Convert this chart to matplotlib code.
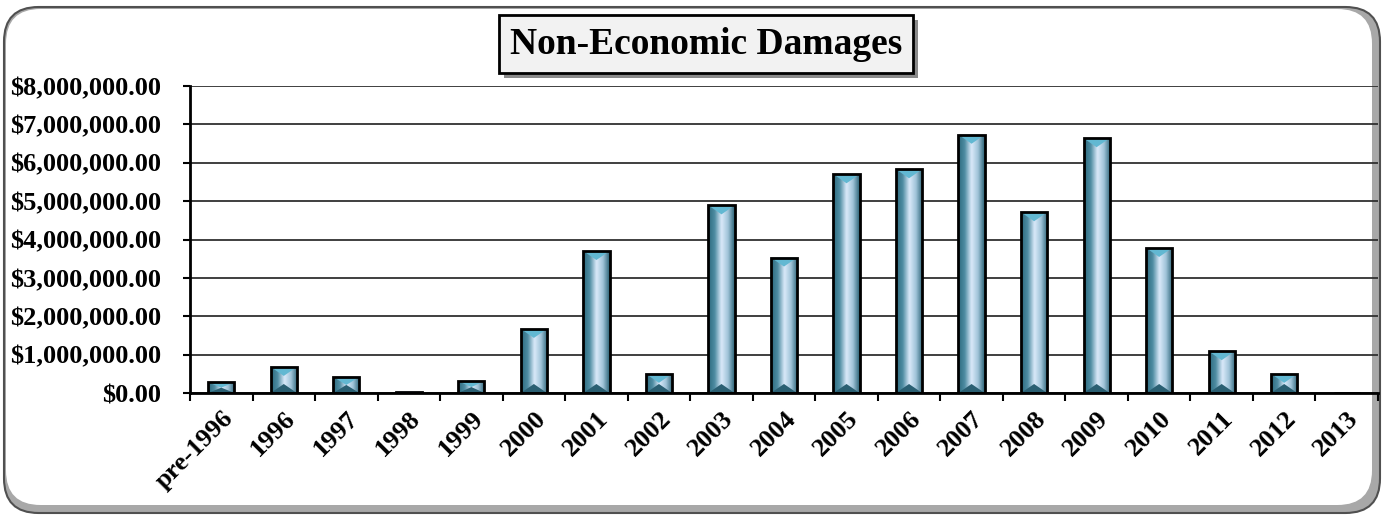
import numpy as np
import matplotlib.pyplot as plt
from matplotlib.patches import FancyBboxPatch, Polygon, Rectangle
from matplotlib.colors import LinearSegmentedColormap
from matplotlib.ticker import FuncFormatter, FixedLocator

years = ['pre-1996', '1996', '1997', '1998', '1999', '2000', '2001', '2002', '2003',
         '2004', '2005', '2006', '2007', '2008', '2009', '2010', '2011', '2012', '2013']
damages = [280000, 680000, 420000, 30000, 310000, 1670000, 3700000, 500000, 4890000,
           3530000, 5700000, 5830000, 6730000, 4710000, 6640000, 3780000, 1090000, 500000, 10000]

plt.rcParams['font.family'] = ['Liberation Serif', 'DejaVu Serif']
plt.rcParams['font.weight'] = 'bold'

W, H = 1383, 515
fig = plt.figure(figsize=(W / 100, H / 100), dpi=100)

# outer rounded frame with inner shadow on the right/bottom
outer = FancyBboxPatch((4 / W, 2 / H), 1376 / W, 506 / H, boxstyle='round,pad=0,rounding_size=0.025',
                       transform=fig.transFigure, facecolor='#a8a8a8', edgecolor='#505050', lw=1.5,
                       mutation_aspect=W / H, zorder=-2)
inner = FancyBboxPatch((6 / W, 10 / H), 1366 / W, 496 / H, boxstyle='round,pad=0,rounding_size=0.025',
                       transform=fig.transFigure, facecolor='white', edgecolor='none',
                       mutation_aspect=W / H, zorder=-1)
fig.patches.extend([outer, inner])

ax = fig.add_axes([190 / W, 1 - 393 / H, 1188 / W, 307 / H])
ax.set_facecolor('none')
x = np.arange(len(years))
bars = ax.bar(x, damages, width=0.42, facecolor='none', edgecolor='black', lw=2, zorder=3)

ax.set_xlim(-0.5, len(years) - 0.5)
ax.set_ylim(0, 8000000)

cmap = LinearSegmentedColormap.from_list('cyl', ['#2d6a7e', '#4f8da3', '#dbeafa', '#9fc3d8', '#2a6275'])
grad = np.linspace(0, 1, 64).reshape(1, -1)
px = 8000000 / (ax.get_window_extent().height)
for b in bars:
    x0, w, h = b.get_x(), b.get_width(), b.get_height()
    if h <= 0:
        continue
    im = ax.imshow(grad, cmap=cmap, aspect='auto', extent=(x0, x0 + w, 0, h), zorder=2,
                   interpolation='bicubic')
    im.set_clip_path(b)
    d = min(9 * px, h / 2)
    ax.add_patch(Polygon([(x0, h), (x0 + w, h), (x0 + w / 2, h - d)], closed=True,
                         facecolor='#62b8d2', edgecolor='none', zorder=2.5))
    ax.add_patch(Polygon([(x0, 0), (x0 + w, 0), (x0 + w / 2, d)], closed=True,
                         facecolor='#2a5f72', edgecolor='none', zorder=2.5))
ax.set_xlim(-0.5, len(years) - 0.5)
ax.set_ylim(0, 8000000)

ax.set_yticks(np.arange(0, 8000001, 1000000))
ax.yaxis.set_major_formatter(FuncFormatter(lambda v, p: '${:,.2f}'.format(v)))
ax.yaxis.grid(True, color='#303030', lw=1.3, zorder=1)
ax.tick_params(axis='y', length=5, width=1.5, labelsize=19, pad=16)

ax.set_xticks(x)
ax.set_xticklabels(years, rotation=45, ha='right', rotation_mode='anchor', fontsize=19)
ax.tick_params(axis='x', which='major', length=0, pad=10)
ax.xaxis.set_minor_locator(FixedLocator(np.arange(len(years) + 1) - 0.5))
ax.tick_params(axis='x', which='minor', length=6, width=1.5)

for s in ['top', 'right']:
    ax.spines[s].set_visible(False)
for s in ['left', 'bottom']:
    ax.spines[s].set_linewidth(2)
ax.set_axisbelow(True)

# title box with drop shadow
t = fig.text(0.5105, 1 - 44 / H, 'Non-Economic Damages', ha='center', va='center', fontsize=27,
             bbox=dict(boxstyle='square,pad=0.3', facecolor='#f2f2f2', edgecolor='black', lw=2),
             zorder=5)
fig.canvas.draw()
bb = t.get_bbox_patch().get_window_extent()
fig.patches.append(Rectangle((bb.x0 + 5, bb.y0 - 5), bb.width, bb.height, transform=None,
                             facecolor='#8a8a8a', edgecolor='none', zorder=4))

fig.savefig('out.png', dpi=100)
